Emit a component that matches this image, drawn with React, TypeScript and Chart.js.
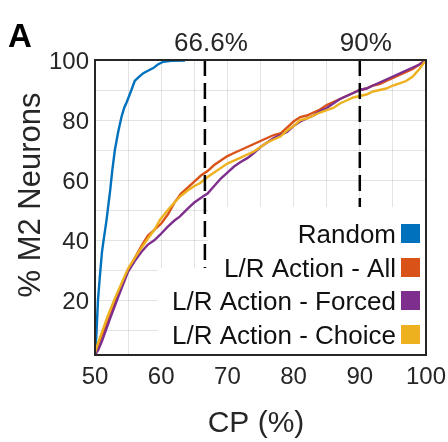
import React, { useEffect, useRef } from "react";
import { Chart, registerables } from "chart.js";

Chart.register(...registerables);

// Cumulative distributions of choice probability (CP, %) across M2 neurons.
const randomCP = [50, 50.2, 50.45, 50.7, 51.05, 51.3, 51.7, 52.3, 52.6, 53, 53.5, 54, 54.4, 54.8, 55.5, 56, 56.6, 57.3, 58, 58.8, 59.5, 60.3, 61.5, 63.6];
const randomPct = [1.7, 8, 20, 27, 36, 40, 46, 56.7, 63, 70, 76, 81, 84, 86, 90, 93, 94.3, 95.6, 96.4, 97.3, 98.5, 99.4, 99.7, 99.8];

const allCP = [50, 50.5, 51, 52, 53, 54, 55, 56, 57, 58, 59, 60, 61, 62, 63, 64, 65, 66, 67, 68, 69, 70, 71, 72, 73, 74, 75, 76, 77, 78, 79, 80, 81, 82, 83, 84, 85, 86, 87, 88, 89, 90, 91, 92, 93, 94, 95, 96, 97, 98, 99, 100];
const allPct = [1.7, 5, 8, 13, 19, 25, 30, 34, 38, 41.5, 43.5, 45.5, 48.5, 52.5, 55.5, 57.5, 59.5, 61.5, 63, 65, 66.5, 68, 69, 70, 71, 72, 73, 74, 75, 75.5, 77.5, 79.5, 81, 81.5, 82.5, 83.5, 85, 86, 87, 88, 89, 90, 90.5, 91.5, 92, 93, 94, 95, 96, 97, 98.5, 100];

const forcedCP = [50, 50.5, 51, 52.3, 53.5, 55, 56, 57, 58, 59, 59.8, 61, 62, 62.8, 64, 65, 66.3, 67, 68, 69, 70, 71, 72, 73, 74, 75, 76, 77, 78, 79, 80, 81, 82, 83, 84, 85, 86, 87, 88, 89, 90, 91, 92, 93, 94, 95, 96, 97, 98, 99, 100];
const forcedPct = [1.7, 3.5, 6, 14, 21, 29.5, 33, 36, 38.5, 40, 41.7, 44.5, 46.5, 47.8, 50.5, 52.5, 54.5, 55.5, 58, 60.5, 62.5, 64.5, 66, 67.3, 69, 71, 72.5, 74, 75, 76, 78, 79.5, 80.5, 81.5, 83, 84, 85.5, 87, 88, 89, 90, 90.5, 91.5, 92.5, 93.5, 94.5, 95.5, 96.5, 97.5, 98.5, 100];

const choiceCP = [50, 50.5, 51, 51.8, 53, 54, 55, 56, 56.8, 58, 59, 59.8, 61, 62, 62.8, 64, 65, 65.9, 67, 68, 69, 70, 71, 72, 73, 74, 75, 76, 77, 78, 79, 80, 81, 82, 83, 84, 85, 86, 87, 88, 89, 90, 91, 92, 93, 94, 95, 96, 97, 98, 99, 100];
const choicePct = [2.5, 6, 9, 14, 20.5, 25.5, 30.5, 34, 36.7, 40.5, 43.5, 46.7, 50, 52.5, 54.4, 56.5, 58, 59, 61, 62.5, 64, 65.5, 66.5, 67.5, 68.5, 69.5, 71, 72.5, 73.5, 74.5, 76.5, 78, 80, 80.5, 81.5, 82.5, 83.3, 84, 85.5, 86.5, 87.5, 88, 88.5, 89.5, 90, 90.5, 91.5, 92.2, 93, 94.5, 97, 100];

const seriesLabels = ["Random", "L/R Action - All", "L/R Action - Forced", "L/R Action - Choice"];
const seriesColors = ["#0072BD", "#D95319", "#7E2F8E", "#EDB120"];

// Reference thresholds marked with dashed lines
const thresholdCP = [66.6, 90];
const thresholdLabels = ["66.6%", "90%"];

const xGrid = [50, 55, 60, 65, 70, 75, 80, 85, 90, 95, 100];
const xLabelled = [50, 60, 70, 80, 90, 100];
const yGrid = [10, 20, 30, 40, 50, 60, 70, 80, 90, 100];
const yLabelled = [20, 40, 60, 80, 100];
const yMin = 1.7;
const yMax = 100;

const FONT = "'Liberation Sans', Arial, Helvetica, sans-serif";
const INK = "#262626";

const toPoints = (xs: number[], ys: number[]) => xs.map((x, i) => ({ x, y: ys[i] }));

const overlayPlugin = {
  id: "overlay",
  afterDatasetsDraw(chart: any) {
    const { ctx, chartArea: a, scales } = chart;
    const xs = scales.x;
    ctx.save();

    // legend backing, stepped to clear each row
    ctx.fillStyle = "#ffffff";
    ctx.fillRect(208, 207, a.right - 208, a.bottom - 207);
    ctx.fillRect(158, 268, a.right - 158, a.bottom - 268);

    // legend entries: right-aligned label, colour swatch after it
    const entries = chart.data.datasets.filter((d: any) => d.label);
    const baselines = [243, 277, 310, 344];
    ctx.font = `26px ${FONT}`;
    ctx.textAlign = "right";
    ctx.textBaseline = "alphabetic";
    entries.forEach((d: any, i: number) => {
      const by = baselines[i];
      ctx.fillStyle = "#111111";
      ctx.fillText(d.label, 396, by);
      ctx.fillStyle = d.borderColor;
      ctx.fillRect(401, by - 19, 19, 19);
    });

    // axes box
    ctx.strokeStyle = INK;
    ctx.lineWidth = 2;
    ctx.strokeRect(a.left, a.top, a.right - a.left, a.bottom - a.top);

    // threshold captions above the plot
    ctx.fillStyle = INK;
    ctx.font = `26px ${FONT}`;
    ctx.textAlign = "center";
    thresholdCP.forEach((v, i) => {
      ctx.fillText(thresholdLabels[i], xs.getPixelForValue(v) + 6, 51);
    });

    // panel letter
    ctx.fillStyle = "#000000";
    ctx.font = `bold 33px ${FONT}`;
    ctx.textAlign = "left";
    ctx.fillText("A", 8, 47);

    // axis titles
    ctx.fillStyle = INK;
    ctx.font = `30px ${FONT}`;
    ctx.textAlign = "center";
    ctx.fillText("CP (%)", 256, 432);

    ctx.save();
    ctx.translate(40, 195);
    ctx.rotate(-Math.PI / 2);
    ctx.font = `31px ${FONT}`;
    ctx.fillText("% M2 Neurons", 0, 0);
    ctx.restore();

    ctx.restore();
  },
};

export default function App() {
  const canvasRef = useRef<HTMLCanvasElement | null>(null);

  useEffect(() => {
    document.body.style.margin = "0";
    const canvas = canvasRef.current;
    if (!canvas) return;

    const curves = [
      toPoints(randomCP, randomPct),
      toPoints(allCP, allPct),
      toPoints(forcedCP, forcedPct),
      toPoints(choiceCP, choicePct),
    ];

    const curveSets = curves.map((data, i) => ({
      label: seriesLabels[i],
      data,
      borderColor: seriesColors[i],
      backgroundColor: seriesColors[i],
      borderWidth: 2.4,
      pointRadius: 0,
      tension: 0,
      fill: false,
      order: 4 - i,
    }));

    const thresholdSets = thresholdCP.map((v) => ({
      label: "",
      data: [
        { x: v, y: yMax },
        { x: v, y: yMin },
      ],
      borderColor: "#000000",
      borderWidth: 2.5,
      borderDash: [16, 7],
      pointRadius: 0,
      fill: false,
      order: 0,
    }));

    const chart = new Chart(canvas, {
      type: "line",
      data: { datasets: [...curveSets, ...thresholdSets] as any },
      plugins: [overlayPlugin],
      options: {
        animation: false,
        responsive: false,
        devicePixelRatio: 1,
        layout: { padding: { left: 0, top: 60, right: 22, bottom: 0 } },
        plugins: { legend: { display: false }, tooltip: { enabled: false } },
        scales: {
          x: {
            type: "linear",
            min: 50,
            max: 100,
            afterBuildTicks: (s: any) => {
              s.ticks = xGrid.map((value) => ({ value }));
            },
            afterFit: (s: any) => {
              s.height = 87;
              s.paddingLeft = 0;
              s.paddingRight = 0;
            },
            ticks: {
              autoSkip: false,
              maxRotation: 0,
              padding: 8,
              color: INK,
              font: { family: FONT, size: 24 },
              callback: (v: any) => (xLabelled.includes(v) ? String(v) : ""),
            },
            grid: { color: "rgba(0,0,0,0.11)", lineWidth: 1, drawTicks: false },
            border: { display: false },
          },
          y: {
            type: "linear",
            min: yMin,
            max: yMax,
            afterBuildTicks: (s: any) => {
              s.ticks = yGrid.map((value) => ({ value }));
            },
            afterFit: (s: any) => {
              s.width = 95;
              s.paddingTop = 0;
              s.paddingBottom = 0;
            },
            ticks: {
              autoSkip: false,
              padding: 6,
              labelOffset: 2,
              color: INK,
              font: { family: FONT, size: 24 },
              callback: (v: any) => (yLabelled.includes(v) ? String(v) : ""),
            },
            grid: { color: "rgba(0,0,0,0.11)", lineWidth: 1, drawTicks: false },
            border: { display: false },
          },
        },
      },
    });

    return () => chart.destroy();
  }, []);

  return (
    <div style={{ width: 448, height: 442, background: "#fff" }}>
      <canvas ref={canvasRef} width={448} height={442} style={{ display: "block" }} />
    </div>
  );
}
